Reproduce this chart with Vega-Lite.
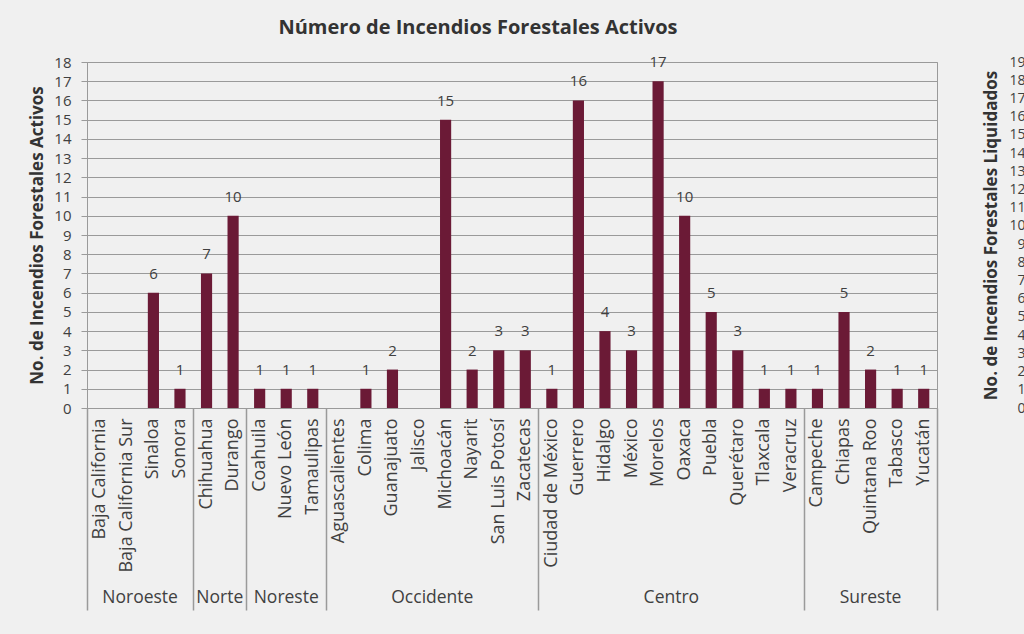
{
  "$schema": "https://vega.github.io/schema/vega-lite/v6.json",
  "width": 850,
  "height": 346,
  "autosize": {"type": "none"},
  "padding": {"left": 87, "top": 62, "right": 87, "bottom": 226},
  "background": "#f0f0f0",
  "title": {
    "text": "Número de Incendios Forestales Activos",
    "font": "Open Sans",
    "fontSize": 20,
    "fontWeight": "bold",
    "color": "#333333",
    "dx": -34,
    "offset": 17
  },
  "data": {
    "values": [
      {"region": "Noroeste", "state": "Baja California", "value": 0},
      {"region": "Noroeste", "state": "Baja California Sur", "value": 0},
      {"region": "Noroeste", "state": "Sinaloa", "value": 6},
      {"region": "Noroeste", "state": "Sonora", "value": 1},
      {"region": "Norte", "state": "Chihuahua", "value": 7},
      {"region": "Norte", "state": "Durango", "value": 10},
      {"region": "Noreste", "state": "Coahuila", "value": 1},
      {"region": "Noreste", "state": "Nuevo León", "value": 1},
      {"region": "Noreste", "state": "Tamaulipas", "value": 1},
      {"region": "Occidente", "state": "Aguascalientes", "value": 0},
      {"region": "Occidente", "state": "Colima", "value": 1},
      {"region": "Occidente", "state": "Guanajuato", "value": 2},
      {"region": "Occidente", "state": "Jalisco", "value": 0},
      {"region": "Occidente", "state": "Michoacán", "value": 15},
      {"region": "Occidente", "state": "Nayarit", "value": 2},
      {"region": "Occidente", "state": "San Luis Potosí", "value": 3},
      {"region": "Occidente", "state": "Zacatecas", "value": 3},
      {"region": "Centro", "state": "Ciudad de México", "value": 1},
      {"region": "Centro", "state": "Guerrero", "value": 16},
      {"region": "Centro", "state": "Hidalgo", "value": 4},
      {"region": "Centro", "state": "México", "value": 3},
      {"region": "Centro", "state": "Morelos", "value": 17},
      {"region": "Centro", "state": "Oaxaca", "value": 10},
      {"region": "Centro", "state": "Puebla", "value": 5},
      {"region": "Centro", "state": "Querétaro", "value": 3},
      {"region": "Centro", "state": "Tlaxcala", "value": 1},
      {"region": "Centro", "state": "Veracruz", "value": 1},
      {"region": "Sureste", "state": "Campeche", "value": 1},
      {"region": "Sureste", "state": "Chiapas", "value": 5},
      {"region": "Sureste", "state": "Quintana Roo", "value": 2},
      {"region": "Sureste", "state": "Tabasco", "value": 1},
      {"region": "Sureste", "state": "Yucatán", "value": 1}
    ]
  },
  "config": {
    "font": "Open Sans",
    "view": {"stroke": "#9a9a9a", "strokeWidth": 1}
  },
  "layer": [
    {
      "mark": {"type": "bar", "color": "#6b1a36", "width": {"band": 0.42}},
      "encoding": {
        "x": {
          "field": "state",
          "type": "nominal",
          "sort": null,
          "scale": {"paddingInner": 0, "paddingOuter": 0},
          "axis": {
            "orient": "bottom",
            "title": null,
            "labelAngle": -90,
            "labelAlign": "right",
            "labelBaseline": "middle",
            "labelFontSize": 18,
            "labelColor": "#404040",
            "labelPadding": 10,
            "labelLimit": 250,
            "ticks": false,
            "domainColor": "#9a9a9a"
          }
        },
        "y": {
          "field": "value",
          "type": "quantitative",
          "scale": {"domain": [0, 18], "nice": false},
          "axis": {
            "title": "No. de Incendios Forestales Activos",
            "values": [0, 1, 2, 3, 4, 5, 6, 7, 8, 9, 10, 11, 12, 13, 14, 15, 16, 17, 18],
            "grid": true,
            "gridColor": "#9a9a9a",
            "gridOpacity": 1,
            "domainColor": "#9a9a9a",
            "tickColor": "#9a9a9a",
            "tickSize": 6,
            "labelPadding": 10,
            "labelFontSize": 15,
            "labelColor": "#404040",
            "titleFontSize": 17,
            "titleFontWeight": "bold",
            "titleColor": "#333333",
            "titlePadding": 7
          }
        }
      }
    },
    {
      "transform": [{"filter": "datum.value > 0"}],
      "mark": {"type": "text", "fontSize": 15, "fill": "#404040", "baseline": "middle", "dy": -19},
      "encoding": {
        "x": {"field": "state", "type": "nominal", "sort": null, "axis": null},
        "y": {"field": "value", "type": "quantitative", "scale": {"domain": [0, 18], "nice": false}, "axis": null},
        "text": {"field": "value", "type": "quantitative"}
      }
    },
    {
      "mark": {"type": "point", "opacity": 0},
      "encoding": {
        "x": {
          "field": "state",
          "type": "nominal",
          "sort": null,
          "axis": {
            "orient": "bottom",
            "title": null,
            "values": ["Baja California", "Chihuahua", "Coahuila", "Aguascalientes", "Ciudad de México", "Campeche"],
            "bandPosition": 0,
            "labels": false,
            "domain": false,
            "tickSize": 202,
            "tickColor": "#9a9a9a",
            "tickWidth": 1.5
          }
        },
        "y": {"field": "value", "type": "quantitative", "scale": {"domain": [0, 18], "nice": false}, "axis": null}
      }
    },
    {
      "mark": {"type": "point", "opacity": 0},
      "encoding": {
        "x": {
          "field": "state",
          "type": "nominal",
          "sort": null,
          "axis": {
            "orient": "bottom",
            "title": null,
            "values": ["Yucatán"],
            "bandPosition": 1,
            "labels": false,
            "domain": false,
            "tickSize": 202,
            "tickColor": "#9a9a9a",
            "tickWidth": 1.5
          }
        },
        "y": {"field": "value", "type": "quantitative", "scale": {"domain": [0, 18], "nice": false}, "axis": null}
      }
    },
    {
      "mark": {"type": "point", "opacity": 0},
      "encoding": {
        "x": {
          "field": "state",
          "type": "nominal",
          "sort": null,
          "axis": {
            "orient": "bottom",
            "title": null,
            "values": ["Baja California Sur", "Chihuahua", "Nuevo León", "Jalisco", "Morelos", "Quintana Roo"],
            "labelExpr": "datum.value == 'Baja California Sur' ? 'Noroeste' : datum.value == 'Chihuahua' ? 'Norte' : datum.value == 'Nuevo León' ? 'Noreste' : datum.value == 'Jalisco' ? 'Occidente' : datum.value == 'Morelos' ? 'Centro' : 'Sureste'",
            "labelAngle": 0,
            "labelAlign": "center",
            "labelBaseline": "top",
            "labelPadding": 180,
            "labelOffset": {
              "condition": {"test": "indexof(['Baja California Sur', 'Chihuahua', 'Jalisco', 'Morelos'], datum.value) >= 0", "value": 13.28},
              "value": 0
            },
            "labelFontSize": 17.5,
            "labelColor": "#404040",
            "ticks": false,
            "domain": false
          }
        },
        "y": {"field": "value", "type": "quantitative", "scale": {"domain": [0, 18], "nice": false}, "axis": null}
      }
    },
    {
      "mark": {"type": "point", "opacity": 0},
      "encoding": {
        "x": {"field": "state", "type": "nominal", "sort": null, "axis": null},
        "y": {
          "field": "value",
          "type": "quantitative",
          "scale": {"domain": [0, 19], "nice": false},
          "axis": {
            "orient": "left",
            "offset": -938,
            "title": "No. de Incendios Forestales Liquidados",
            "values": [0, 1, 2, 3, 4, 5, 6, 7, 8, 9, 10, 11, 12, 13, 14, 15, 16, 17, 18, 19],
            "domain": false,
            "ticks": false,
            "grid": false,
            "labelPadding": 0,
            "labelFontSize": 14,
            "labelColor": "#404040",
            "titleFontSize": 17,
            "titleFontWeight": "bold",
            "titleColor": "#333333",
            "titlePadding": 8
          }
        }
      }
    }
  ],
  "resolve": {
    "scale": {"y": "independent"},
    "axis": {"x": "independent", "y": "independent"}
  }
}
